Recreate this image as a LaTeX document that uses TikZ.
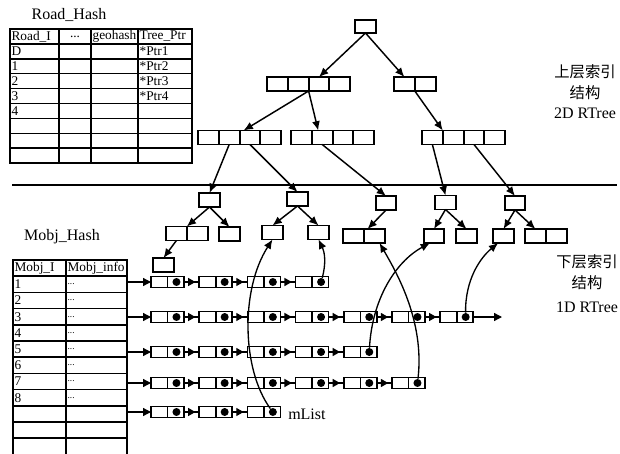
\documentclass[tikz,border=0pt]{standalone}
\usepackage{fontspec}
\setmainfont{Liberation Serif}
\newfontfamily\cjk{Noto Sans CJK SC}
\usetikzlibrary{arrows.meta,decorations.markings,calc}
\begin{document}
\begin{tikzpicture}[x=0.75pt,y=-0.75pt,
  box/.style={draw, line width=1.4pt, inner sep=0pt, outer sep=0pt, minimum width=15.6pt, minimum height=10.5pt},
  tcell/.style={draw, line width=1.1pt, inner sep=0pt, outer sep=0pt},
  lcell/.style={draw, line width=1.2pt, inner sep=0pt, outer sep=0pt, minimum width=12.4pt, minimum height=8.25pt},
  pdot/.style={circle, fill, inner sep=0pt, minimum size=6pt},
  tarr/.style={line width=1.1pt, -{Latex[length=7pt,width=6pt]}},
  lnk/.style={line width=1pt, decoration={markings, mark=at position 0.75 with {\arrow{Triangle[length=5.5pt,width=6pt]}}}, postaction={decorate}},
  harr/.style={line width=1pt, -{Triangle[length=6pt,width=6pt]}},
  curv/.style={line width=1pt, -{Latex[length=7pt,width=6pt]}},
  ttxt/.style={font=\fontsize{10}{12}\selectfont, inner sep=0pt, anchor=west},
  lbl/.style={font=\fontsize{12}{14}\selectfont, inner sep=0pt},
  clbl/.style={font=\cjk\fontsize{11.5}{14}\selectfont, inner sep=0pt}
]
\useasboundingbox (0,0) rectangle (620,453);

% ---------- Road_Hash table ----------
\node[lbl] (rhtitle) at (69,15) {Road\_Hash};
\foreach \r in {0,...,8}{
  \foreach \c/\xx/\ww in {1/10/49,2/59/32,3/91/47,4/138/54}{
    \pgfmathsetmacro\wpt{\ww*0.75}
    \node[tcell, anchor=north west, minimum width=\wpt pt, minimum height=11.175pt] (rh\r-\c) at (\xx,{29+14.9*\r}) {};
  }
}
\node[ttxt] (rt0-1) at ([xshift=1pt]rh0-1.west) {Road\_I};
\node[ttxt, anchor=center] (rt0-2) at (rh0-2.center) {...};
\node[ttxt] (rt0-3) at ([xshift=1pt]rh0-3.west) {geohash};
\node[ttxt] (rt0-4) at ([xshift=1pt]rh0-4.west) {Tree\_Ptr};
\foreach \r/\t in {1/D,2/1,3/2,4/3,5/4}{
  \node[ttxt] (rt\r-1) at ([xshift=1pt]rh\r-1.west) {\t};
}
\foreach \r/\t in {1/*Ptr1,2/*Ptr2,3/*Ptr3,4/*Ptr4}{
  \node[ttxt] (rt\r-4) at ([xshift=1pt]rh\r-4.west) {\t};
}

% ---------- Mobj_Hash table ----------
\node[lbl] (mbtitle) at (62,237) {Mobj\_Hash};
\foreach \r in {0,...,11}{
  \foreach \c/\xx/\ww in {1/13/53,2/66/61}{
    \pgfmathsetmacro\wpt{\ww*0.75}
    \node[tcell, anchor=north west, minimum width=\wpt pt, minimum height=12.15pt] (mb\r-\c) at (\xx,{260+16.2*\r}) {};
  }
}
\node[ttxt] (mt0-1) at ([xshift=1pt]mb0-1.west) {Mobj\_I};
\node[ttxt] (mt0-2) at ([xshift=1pt]mb0-2.west) {Mobj\_info};
\foreach \r in {1,...,8}{
  \node[ttxt] (mt\r-1) at ([xshift=1pt]mb\r-1.west) {\r};
  \node[ttxt, font=\fontsize{7}{8}\selectfont] (mt\r-2) at ([xshift=1pt]mb\r-2.west) {...};
}

% ---------- upper tree (2D RTree) ----------
\node[box, minimum width=15.75pt, minimum height=9.75pt] (root) at (365.5,26.5) {};
\foreach \i/\xx in {1/277.4,2/298.2,3/319,4/339.8} \node[box] (a\i) at (\xx,84) {};
\foreach \i/\xx in {1/404.4,2/425.2} \node[box] (b\i) at (\xx,84) {};
\foreach \i/\xx in {1/208.4,2/229.2,3/250,4/270.8} \node[box] (c\i) at (\xx,137.5) {};
\foreach \i/\xx in {1/301.4,2/322.2,3/343,4/363.8} \node[box] (d\i) at (\xx,137.5) {};
\foreach \i/\xx in {1/432.4,2/453.2,3/474,4/494.8} \node[box] (e\i) at (\xx,137.5) {};

\draw[tarr] (root.south) -- (a3.north);
\draw[tarr] (root.south) -- (b1.north);
\draw[tarr] (a2.south east) -- ([xshift=3pt]c3.north west);
\draw[tarr] (a2.south east) -- ([xshift=-3pt]d2.north);
\draw[tarr] (b1.south east) -- (e1.north east);

% separator
\draw[line width=1.1pt] (12,185) -- (617,185);

% ---------- lower tree (1D RTree) ----------
\node[box] (f1) at (209.5,200) {};
\node[box] (f2) at (297.5,199) {};
\node[box] (f3) at (386,203) {};
\node[box] (f4) at (445.5,202.5) {};
\node[box] (f5) at (515,203) {};
\node[box] (g1) at (176.4,233.5) {};
\node[box] (g2) at (197.2,233.5) {};
\node[box] (g3) at (229.5,234) {};
\node[box] (g4) at (272.5,232.5) {};
\node[box] (g5) at (318.5,232.5) {};
\node[box] (g6) at (353.4,236) {};
\node[box] (g7) at (374.2,236) {};
\node[box] (g8) at (434,236) {};
\node[box] (g9) at (466.5,236) {};
\node[box] (g10) at (503.5,236) {};
\node[box] (g11) at (535.4,236) {};
\node[box] (g12) at (556.2,236) {};
\node[box] (h1) at (163.5,265) {};

\draw[tarr] (c2.south) -- (f1.north);
\draw[tarr] (c3.south) -- (f2.north);
\draw[tarr] (d2.south) -- (f3.north);
\draw[tarr] (e1.south) -- (f4.north);
\draw[tarr] (e3.south) -- (f5.north);
\draw[tarr] (f1.south) -- (g1.north east);
\draw[tarr] (f1.south) -- (g3.north);
\draw[tarr] (f2.south) -- (g4.north);
\draw[tarr] (f2.south) -- (g5.north);
\draw[tarr] (f3.south) -- ([xshift=-5pt]g7.north);
\draw[tarr] (f4.south) -- (g8.north);
\draw[tarr] (f4.south) -- (g9.north);
\draw[tarr] (f5.south) -- (g10.north);
\draw[tarr] (f5.south) -- (g11.north);
\draw[tarr] (g1.south) -- (h1.north);

% ---------- object lists ----------
\foreach \r/\yy/\n/\tr in {1/282/4/1, 2/317/7/3, 3/352/5/5, 4/383/6/7, 5/412/3/9}{
  \foreach \c in {1,...,\n}{
    \pgfmathsetmacro\xx{151+(\c-1)*48.2}
    \node[lcell, anchor=west] (L\r-\c-a) at (\xx,\yy) {};
    \node[lcell, anchor=west] (L\r-\c-b) at (L\r-\c-a.east) {};
    \node[pdot] (D\r-\c) at ([xshift=0.5pt]L\r-\c-b.center) {};
  }
  \pgfmathtruncatemacro\m{\n-1}
  \foreach \c in {1,...,\m}{
    \pgfmathtruncatemacro\nx{\c+1}
    \draw[lnk] (L\r-\c-b.east) -- (L\r-\nx-a.west);
  }
  \draw[harr] (mb\tr-2.east |- L\r-1-a.west) -- (L\r-1-a.west);
}
\coordinate (R2end) at (502,317);
\draw[harr] (L2-7-b.east) -- (R2end);

\node[lbl, anchor=west] (mlist) at (288,414) {mList};

% ---------- pointer curves ----------
\draw[curv] (D1-4) to[bend right=20] (g5.south);
\draw[curv] (D5-3) .. controls (242,370) and (240,290) .. (g4.south);
\draw[curv] (D4-6) .. controls (425,320) and (395,270) .. ([xshift=4pt]g7.south);
\draw[curv] (D3-5) .. controls (372,300) and (395,262) .. ([xshift=-3pt]g8.south);
\draw[curv] (D2-7) .. controls (465,280) and (480,258) .. ([xshift=-4pt]g10.south);

% ---------- side labels ----------
\node[clbl] (up1) at (585,72) {上层索引};
\node[clbl] (up2) at (585,93) {结构};
\node[lbl] (up3) at (585,113) {2D RTree};
\node[clbl] (lo1) at (587,262) {下层索引};
\node[clbl] (lo2) at (587,283) {结构};
\node[lbl] (lo3) at (587,307) {1D RTree};
\end{tikzpicture}
\end{document}
